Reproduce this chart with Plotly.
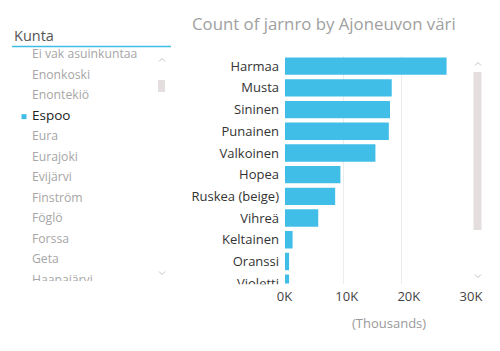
import plotly.graph_objects as go

# ---- data ----
colors = ["Harmaa", "Musta", "Sininen", "Punainen", "Valkoinen", "Hopea",
          "Ruskea (beige)", "Vihreä", "Keltainen", "Oranssi", "Violetti"]
counts = [27700, 18300, 18000, 17800, 15500, 9500, 8600, 5700, 1300, 700, 700]
x_ticks = [0, 10000, 20000, 30000]
x_ticktext = ["0K", "10K", "20K", "30K"]
slicer_items = ["Ei vak asuinkuntaa", "Enonkoski", "Enontekiö", "Espoo", "Eura",
                "Eurajoki", "Evijärvi", "Finström", "Föglö", "Forssa", "Geta",
                "Haapajärvi"]
selected_item = "Espoo"

W, H = 500, 351
FONT = "Open Sans"
BAR = "#41BEE8"


def px(x):
    return x / W


def py(y):
    return 1 - y / H


fig = go.Figure()

fig.add_trace(go.Bar(
    x=counts, y=colors, orientation="h",
    marker=dict(color=BAR, line=dict(width=0)),
    xaxis="x", yaxis="y", hoverinfo="skip", showlegend=False,
))
# invisible copy on the tick-label axis so that it is drawn
fig.add_trace(go.Scatter(
    x=counts, y=colors, mode="markers", marker=dict(opacity=0, size=1),
    xaxis="x2", yaxis="y", hoverinfo="skip", showlegend=False,
))

# slicer list (clipped text in its own invisible subplot)
item_idx = list(range(len(slicer_items)))
item_colors = ["#222222" if s == selected_item else "#A6A6A6" for s in slicer_items]
item_sizes = [13.5 if s == selected_item else 12.2 for s in slicer_items]
fig.add_trace(go.Scatter(
    x=[32] * len(slicer_items), y=item_idx, text=slicer_items,
    mode="text", textposition="middle right",
    textfont=dict(family=FONT, size=item_sizes, color=item_colors),
    xaxis="x3", yaxis="y3", cliponaxis=True, hoverinfo="skip", showlegend=False,
))
sel = slicer_items.index(selected_item)
fig.add_trace(go.Scatter(
    x=[24], y=[sel], mode="markers",
    marker=dict(symbol="square", size=5, color=BAR),
    xaxis="x3", yaxis="y3", hoverinfo="skip", showlegend=False,
))

shapes = []
# slicer header underline
shapes.append(dict(type="line", xref="paper", yref="paper",
                   x0=px(12), x1=px(171), y0=py(46.5), y1=py(46.5),
                   line=dict(color="#3FBDE8", width=1.5)))
# slicer scrollbar thumb
shapes.append(dict(type="rect", xref="paper", yref="paper",
                   x0=px(158), x1=px(165), y0=py(80), y1=py(92),
                   fillcolor="#E4DEDE", line=dict(width=0)))
# chart scrollbar thumb
shapes.append(dict(type="rect", xref="paper", yref="paper",
                   x0=px(473.5), x1=px(481.5), y0=py(72), y1=py(230),
                   fillcolor="#E4DEDE", line=dict(width=0)))


def chevron(cx, cy, up):
    d = -1 if up else 1
    pts = [(cx - 3, cy - 1.5 * d), (cx, cy + 1.5 * d), (cx + 3, cy - 1.5 * d)]
    path = "M {} {} L {} {} L {} {}".format(
        px(pts[0][0]), py(pts[0][1]), px(pts[1][0]), py(pts[1][1]),
        px(pts[2][0]), py(pts[2][1]))
    return dict(type="path", xref="paper", yref="paper", path=path,
                line=dict(color="#C9C0C0", width=1))


shapes += [chevron(162, 60, True), chevron(162, 273, False),
           chevron(478, 64, True), chevron(478, 276, False)]
# mask lower half of the clipped last category label
shapes.append(dict(type="rect", xref="paper", yref="paper", layer="above",
                   x0=px(182), x1=px(284), y0=py(291), y1=py(284.2),
                   fillcolor="white", line=dict(width=0)))

annotations = [
    dict(text="Kunta", xref="paper", yref="paper", x=px(12), y=py(35),
         xanchor="left", yanchor="middle", showarrow=False,
         font=dict(family=FONT, size=14.5, color="#555555")),
    dict(text="Count of jarnro by Ajoneuvon väri", xref="paper", yref="paper",
         x=px(190), y=py(23.5), xanchor="left", yanchor="middle", showarrow=False,
         font=dict(family=FONT, size=16.8, color="#A0A0A0")),
    dict(text="(Thousands)", xref="paper", yref="paper", x=px(389), y=py(323),
         xanchor="center", yanchor="middle", showarrow=False,
         font=dict(family=FONT, size=13, color="#9A9A9A")),
]

fig.update_layout(
    width=W, height=H, margin=dict(l=0, r=0, t=0, b=0, autoexpand=False),
    paper_bgcolor="white", plot_bgcolor="rgba(0,0,0,0)",
    bargap=0.2, showlegend=False,
    xaxis=dict(domain=[px(285), px(460)], range=[0, 30000], anchor="y",
               tickvals=x_ticks[1:], showticklabels=False, showgrid=True,
               gridcolor="#ECECEC", gridwidth=1, zeroline=False, showline=False,
               ticks="", fixedrange=True, automargin=False),
    xaxis2=dict(domain=[px(284.5), px(471)], range=[0, 30000], anchor="y",
                tickvals=x_ticks, ticktext=x_ticktext, showgrid=False,
                zeroline=False, showline=False, ticks="", ticklabelstandoff=3,
                tickfont=dict(family=FONT, size=13, color="#444444"),
                fixedrange=True, automargin=False),
    yaxis=dict(domain=[py(283.5), py(56)], range=[10.016, -0.468],
               categoryorder="array", categoryarray=colors, type="category",
               showgrid=False, zeroline=False, showline=False, ticks="",
               ticklabelstandoff=5,
               tickfont=dict(family=FONT, size=13, color="#333333"),
               fixedrange=True, automargin=False),
    xaxis3=dict(domain=[0, px(180)], range=[0, 180], anchor="y3",
                visible=False, fixedrange=True, automargin=False),
    yaxis3=dict(domain=[py(281), py(49)],
                range=[-0.30 + (281 - 49) / 20.5, -0.30],
                anchor="x3", visible=False, fixedrange=True, automargin=False),
    shapes=shapes, annotations=annotations,
)

fig.write_html("out.html")
